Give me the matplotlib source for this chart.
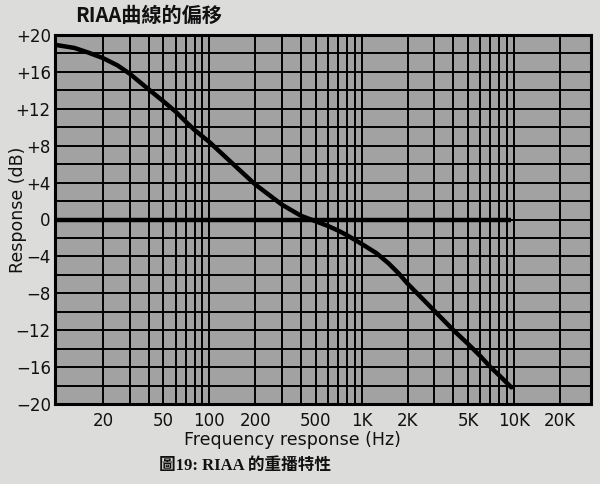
import matplotlib
matplotlib.use("Agg")
import matplotlib.pyplot as plt
import numpy as np

# values
freq = [10, 13, 16, 20, 25, 30, 40, 50, 60, 70, 80, 100, 150, 200, 300, 400,
        500, 600, 700, 800, 900, 1000, 1250, 1500, 1750, 2000, 3000, 4000,
        5000, 6000, 7000, 8000, 9600]
resp = [18.9, 18.6, 18.1, 17.5, 16.7, 15.8, 14.1, 12.8, 11.7, 10.6, 9.7, 8.4,
        5.7, 3.8, 1.6, 0.4, -0.2, -0.7, -1.2, -1.7, -2.2, -2.65, -3.65, -4.75,
        -5.85, -6.95, -9.9, -12.0, -13.5, -14.8, -16.0, -16.9, -18.2]

x_ticks = [20, 50, 100, 200, 500, 1000, 2000, 5000, 10000, 20000]
x_labels = ["20", "50", "100", "200", "500", "1K", "2K", "5K", "10K", "20K"]
x_grid = [20, 30, 40, 50, 60, 70, 80, 90, 100,
          200, 300, 400, 500, 600, 700, 800, 900, 1000,
          2000, 3000, 4000, 5000, 6000, 7000, 8000, 9000, 10000, 20000]
y_ticks = [-20, -16, -12, -8, -4, 0, 4, 8, 12, 16, 20]
y_labels = ["−20", "−16", "−12", "−8", "−4", "0", "+4", "+8", "+12", "+16", "+20"]
y_grid = list(range(-18, 20, 2))
zero_end = 9600

paper = "#dcdcda"
plot_bg = "#a2a2a2"

fig = plt.figure(figsize=(6, 4.84), dpi=100, facecolor=paper)
ax = fig.add_axes([55/600, 1-404/484, 536/600, 369/484])
ax.set_facecolor(plot_bg)
ax.set_xscale("log")
ax.set_xlim(9.7, 32000)
ax.set_ylim(-20, 20)

for f in x_grid:
    ax.axvline(f, color="black", lw=1.4, zorder=1)
for g in y_grid:
    ax.axhline(g, color="black", lw=1.4, zorder=1)

# thick 0 dB reference
ax.plot([9.7, zero_end], [0, 0], color="black", lw=3.2, zorder=2, solid_capstyle="butt")
# RIAA curve
ax.plot(freq, resp, color="black", lw=3.2, zorder=3, solid_capstyle="round",
        solid_joinstyle="round")

ax.set_xticks(x_ticks)
ax.set_xticklabels(x_labels)
ax.xaxis.set_minor_locator(matplotlib.ticker.NullLocator())
ax.set_yticks(y_ticks)
ax.set_yticklabels(y_labels)
ax.tick_params(length=0, labelsize=12, colors="#111111", pad=3)
ax.tick_params(axis="x", pad=6)

for s in ax.spines.values():
    s.set_linewidth(2.2)
    s.set_color("black")

fig.text(75/600, 1-15/484, "RIAA曲線的偏移", ha="left", va="center",
         fontsize=14.5, fontweight="bold", family=["Noto Sans CJK TC", "DejaVu Sans"], color="#111111")
fig.text(18/600, 1-210/484, "Response (dB)", rotation=90, ha="center", va="center",
         fontsize=12.5, color="#111111")
fig.text(292/600, 1-440/484, "Frequency response (Hz)", ha="center", va="center",
         fontsize=12.5, color="#111111")
fig.text(245/600, 1-466/484, "圖19: RIAA 的重播特性", ha="center", va="center",
         fontsize=12, fontweight="bold", family=["Liberation Serif", "Noto Sans CJK TC"], color="#111111")

fig.savefig("out.png", dpi=100, facecolor=paper)
